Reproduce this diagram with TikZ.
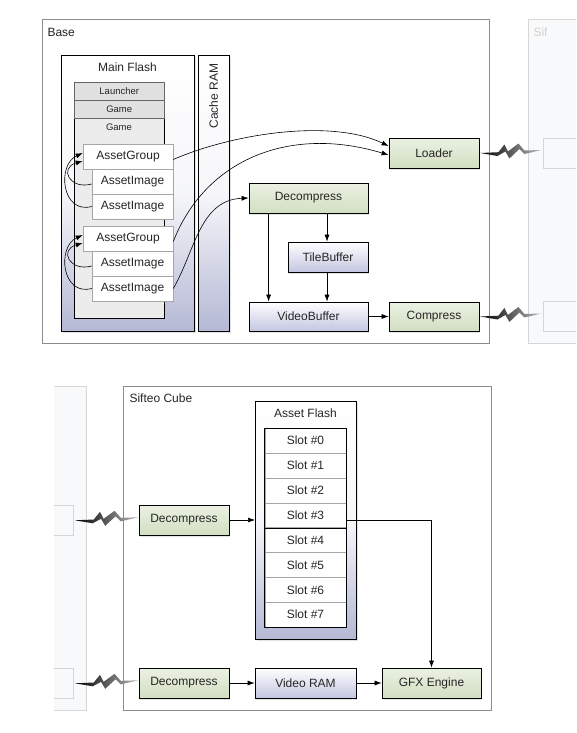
\documentclass[tikz,border=0pt]{standalone}
\usepackage{fontspec}
\setmainfont{Liberation Sans}
\usetikzlibrary{arrows.meta,shadows}
\definecolor{lav}{HTML}{B4B8D4}
\definecolor{grn}{HTML}{D2DFC1}
\definecolor{blu}{HTML}{C3C6E0}
\definecolor{fade}{HTML}{F8F9FB}
\definecolor{fadeline}{HTML}{D6D6D6}
\tikzset{
  every node/.style={font=\fontsize{12}{14}\selectfont, text=black!85},
  sz/.style 2 args={minimum width=#1pt, minimum height=#2pt, inner sep=0pt},
  shad/.style={drop shadow={shadow xshift=1.2pt, shadow yshift=-2pt, opacity=0.22}},
  box/.style={draw=black, line width=0.8pt, shad},
  greenbox/.style={box, top color=white!55!grn, bottom color=grn},
  bluebox/.style={box, top color=white, bottom color=blu},
  memory/.style={draw=black, line width=0.8pt, top color=white, bottom color=lav, middle color=white!88!lav, shad},
  asset/.style={draw=gray!70, fill=white, line width=0.6pt},
  slot/.style={draw=gray!70, fill=white, line width=0.6pt},
  small/.style={font=\fontsize{9.5}{11}\selectfont},
  arr/.style={-{Latex[length=7pt,width=5pt]}, line width=0.6pt, black},
  container/.style={draw=gray!90, line width=0.7pt, fill=white},
  faded/.style={draw=fadeline, fill=fade, line width=0.6pt, inner sep=0pt},
  boltshade/.style={left color=black, right color=gray!55},
}
\newcommand\boltpath{(1,0) -- (19,-0.8) -- (25,-8.5) -- (28.5,-1.5) -- (39,-9.5) -- (45,-2.5) -- (62,-3) -- (45,1) -- (40,-4) -- (30,5.5) -- (26,-1.5) -- (18,3) -- cycle}
\begin{document}
\begin{tikzpicture}[x=1pt,y=-1pt]
\useasboundingbox (0,0) rectangle (576,733);

% ---------- faded neighbours ----------
\begin{scope}
  \clip (0,0) rectangle (576,733);
  \node[faded, sz={80}{324}, anchor=north west] (fadeR) at (528,19) {};
  \node[faded, sz={60}{30}, anchor=north west] (fadeRa) at (543,138) {};
  \node[faded, sz={60}{30}, anchor=north west] (fadeRb) at (543,301) {};
  \node[anchor=west, text=black!18] (fadeRlabel) at (530,32) {Sif};
\end{scope}
\begin{scope}
  \clip (54,0) rectangle (576,733);
  \node[faded, sz={60}{324}, anchor=north east] (fadeL) at (87,386) {};
  \node[faded, sz={40}{30}, anchor=north east] (fadeLa) at (74,505) {};
  \node[faded, sz={40}{30}, anchor=north east] (fadeLb) at (74,668) {};
\end{scope}

% ---------- Base ----------
\node[container, sz={447}{324}, anchor=north west] (base) at (42,19) {};
\node[anchor=west] (baselabel) at (44,32) {Base};

\node[memory, sz={133}{276}, anchor=north west] (mainflash) at (61,55) {};
\node (mflabel) at (127.5,67) {Main Flash};
\node[memory, sz={31}{276}, anchor=north west] (cache) at (198,55) {};
\node[rotate=90] (cachelabel) at (213.5,96) {Cache RAM};

\node[draw=black, line width=0.6pt, fill=gray!15, sz={90}{236}, anchor=north west] (col) at (74,82) {};
\node[draw=gray!80!black, line width=0.5pt, fill=gray!24, sz={90}{18}, anchor=north west, small] (launcher) at (74,82) {Launcher};
\node[draw=gray!80!black, line width=0.5pt, fill=gray!24, sz={90}{18}, anchor=north west, small] (game1) at (74,100) {Game};
\node[small] (game2) at (119,127) {Game};

\node[asset, sz={90}{25}] (ag1) at (128,156.5) {AssetGroup};
\node[asset, sz={81}{25}] (ai1) at (132.5,181.5) {AssetImage};
\node[asset, sz={81}{25}] (ai2) at (132.5,206.5) {AssetImage};
\node[asset, sz={90}{25}] (ag2) at (128,238.5) {AssetGroup};
\node[asset, sz={81}{25}] (ai3) at (132.5,263.5) {AssetImage};
\node[asset, sz={81}{25}] (ai4) at (132.5,288.5) {AssetImage};

\node[greenbox, sz={90}{30}] (loader) at (434,153) {Loader};
\node[greenbox, sz={119}{30}] (decomp) at (308.5,198) {Decompress};
\node[bluebox, sz={80}{30}] (tile) at (328,257) {TileBuffer};
\node[bluebox, sz={119}{29}] (video) at (308.5,316.5) {VideoBuffer};
\node[greenbox, sz={90}{29}] (compress) at (434,316.5) {Compress};

% loops
\draw[arr] ([yshift=-2.5pt]ai1.west) .. controls +(-22,6) and +(-24,7) .. ([yshift=-4.5pt]ag1.west);
\draw[arr] (ai2.west) .. controls +(-30,8) and +(-26,12) .. ([yshift=3.5pt]ag1.west);
\draw[arr] ([yshift=-2.5pt]ai3.west) .. controls +(-22,6) and +(-24,7) .. ([yshift=-4.5pt]ag2.west);
\draw[arr] (ai4.west) .. controls +(-30,8) and +(-26,12) .. ([yshift=3.5pt]ag2.west);

% long curves
\draw[arr] ([yshift=-3pt]ag1.east) .. controls +(57,-25) and +(-59,-28) .. ([yshift=7pt]loader.west);
\draw[arr] ([yshift=-3pt]ag2.east) .. controls +(32,-82) and +(-99,-30) .. ([yshift=-2pt]loader.west);
\draw[arr] (ai4.east) .. controls +(22,-38) and +(-49,2) .. (decomp.west);

\draw[arr] (decomp.south -| video.south west) ++(20,0) coordinate (dv) -- (dv |- video.north);
\draw[arr] (decomp.south -| tile.south) ++(-1,0) coordinate (dt) -- (dt |- tile.north);
\draw[arr] ([xshift=-1pt]tile.south) -- ([xshift=-1pt]tile.south |- video.north);
\draw[arr] (video) -- (compress);

% bolts
\begin{scope}[shift={(loader.east)}]
  \shade[boltshade] \boltpath;
\end{scope}
\begin{scope}[shift={(compress.east)}]
  \shade[boltshade] \boltpath;
\end{scope}

% ---------- Sifteo Cube ----------
\node[container, sz={368}{324}, anchor=north west] (cube) at (123,386) {};
\node[anchor=west] (cubelabel) at (126,398) {Sifteo Cube};

\node[greenbox, sz={90}{30}] (dca) at (184,520) {Decompress};
\node[greenbox, sz={90}{30}] (dcb) at (184,683) {Decompress};

\node[memory, sz={101}{238}, anchor=north west] (assetflash) at (255,401) {};
\node (aflabel) at (305.5,413) {Asset Flash};
\foreach \i in {0,...,7} {
  \node[slot, sz={81}{24.85}] (slot\i) at (305.5,{440.7+24.85*\i}) {Slot \#\i};
}
\draw[line width=0.8pt] (slot0.north west) rectangle (slot7.south east);
\draw[line width=0.8pt] (slot3.south west) -- (slot3.south east);

\node[bluebox, sz={101}{30}] (vram) at (305.5,683) {Video RAM};
\node[greenbox, sz={99}{30}] (gfx) at (431.5,683) {GFX Engine};

\draw[arr] (dca) -- (dca -| assetflash.west);
\draw[arr] (dcb) -- (vram);
\draw[arr] (vram) -- (gfx);
\draw[arr] ([yshift=-4.8pt]slot3.east) -| (gfx.north);

\begin{scope}[shift={(fadeLa.east)}, xscale=1.04]
  \shade[boltshade] \boltpath;
\end{scope}
\begin{scope}[shift={(fadeLb.east)}, xscale=1.04]
  \shade[boltshade] \boltpath;
\end{scope}
\end{tikzpicture}
\end{document}
